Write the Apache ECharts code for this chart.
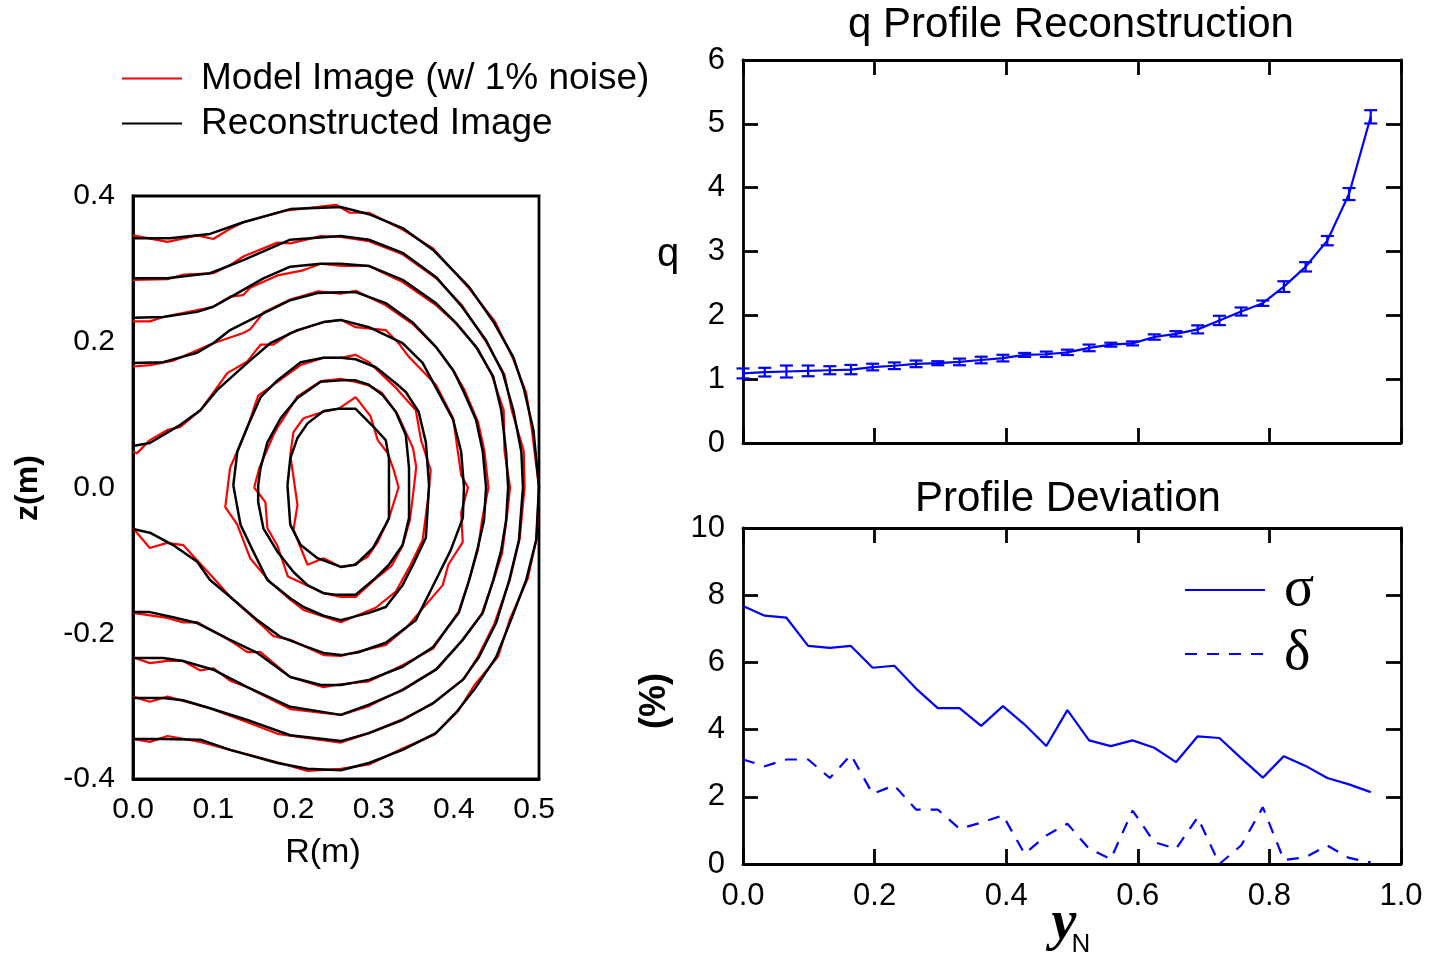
<!DOCTYPE html>
<html lang="en">
<head>
<meta charset="utf-8" />
<title>q profile reconstruction</title>
<script src="https://cdn.jsdelivr.net/npm/echarts@6/dist/echarts.min.js"></script>
<style>
  html, body { margin: 0; padding: 0; background: #fff; }
  #main { width: 1432px; height: 956px; }
</style>
<script>
// ---- flux surfaces, left panel (R, z in m) ----
var blackC1 = [[0.1925,0.003],[0.196,0.04],[0.205,0.068],[0.2175,0.088],[0.2375,0.105],[0.256,0.108],[0.2775,0.108],[0.3,0.083],[0.315,0.065],[0.319,0.04],[0.319,-0.042],[0.315,-0.051],[0.299,-0.083],[0.2775,-0.106],[0.259,-0.109],[0.23,-0.097],[0.209,-0.079],[0.196,-0.051],[0.1925,0.003]];
var blackC2 = [[0.156,0.003],[0.159,0.027],[0.1675,0.062],[0.184,0.095],[0.205,0.123],[0.234,0.145],[0.259,0.147],[0.2775,0.147],[0.294,0.141],[0.311,0.127],[0.3275,0.104],[0.34,0.072],[0.344,0.027],[0.344,-0.042],[0.336,-0.079],[0.319,-0.106],[0.3025,-0.124],[0.2775,-0.147],[0.2525,-0.147],[0.2375,-0.145],[0.2175,-0.134],[0.2,-0.116],[0.18,-0.088],[0.1625,-0.056],[0.156,-0.02],[0.156,0.003]];
var blackC3 = [[0.125,0.003],[0.13,0.049],[0.1425,0.083],[0.159,0.124],[0.18,0.147],[0.209,0.172],[0.2375,0.178],[0.259,0.178],[0.2775,0.176],[0.3025,0.165],[0.3275,0.143],[0.34,0.131],[0.356,0.104],[0.365,0.062],[0.369,0.003],[0.365,-0.069],[0.349,-0.106],[0.336,-0.134],[0.315,-0.164],[0.294,-0.172],[0.259,-0.182],[0.2375,-0.176],[0.2125,-0.164],[0.196,-0.152],[0.1675,-0.127],[0.15,-0.088],[0.134,-0.051],[0.125,0.003]];
var blackC4 = [[0,0.057],[0.021,0.061],[0.059,0.086],[0.084,0.106],[0.105,0.134],[0.1425,0.171],[0.171,0.198],[0.205,0.216],[0.2375,0.227],[0.259,0.23],[0.294,0.22],[0.336,0.198],[0.361,0.171],[0.3775,0.137],[0.399,0.093],[0.409,0.049],[0.4125,0],[0.411,-0.042],[0.396,-0.086],[0.3775,-0.127],[0.3525,-0.182],[0.315,-0.213],[0.281,-0.226],[0.259,-0.23],[0.2375,-0.227],[0.2175,-0.219],[0.184,-0.205],[0.155,-0.182],[0.121,-0.15],[0.096,-0.127],[0.08,-0.102],[0.05,-0.079],[0.021,-0.062],[0,-0.057]];
var blackC5 = [[0,0.171],[0.0375,0.172],[0.08,0.185],[0.1,0.198],[0.121,0.216],[0.1625,0.239],[0.196,0.257],[0.23,0.267],[0.259,0.268],[0.2775,0.268],[0.315,0.253],[0.349,0.226],[0.3775,0.193],[0.399,0.161],[0.411,0.134],[0.4275,0.093],[0.436,0.049],[0.44,0],[0.4375,-0.045],[0.429,-0.086],[0.419,-0.127],[0.406,-0.172],[0.374,-0.219],[0.336,-0.246],[0.294,-0.264],[0.259,-0.271],[0.234,-0.271],[0.196,-0.26],[0.155,-0.227],[0.121,-0.209],[0.08,-0.186],[0.05,-0.178],[0.021,-0.171],[0,-0.171]];
var blackC6 = [[0,0.233],[0.0375,0.234],[0.08,0.241],[0.1,0.248],[0.121,0.261],[0.1625,0.287],[0.196,0.303],[0.234,0.307],[0.259,0.307],[0.294,0.304],[0.336,0.285],[0.3775,0.253],[0.4025,0.226],[0.4275,0.193],[0.449,0.152],[0.459,0.106],[0.465,0.049],[0.4675,0],[0.465,-0.045],[0.459,-0.086],[0.449,-0.127],[0.436,-0.172],[0.411,-0.209],[0.3775,-0.25],[0.336,-0.278],[0.294,-0.298],[0.259,-0.312],[0.196,-0.301],[0.1425,-0.274],[0.1,-0.25],[0.0625,-0.238],[0.0375,-0.234],[0,-0.234]];
var blackC7 = [[0,0.287],[0.0425,0.287],[0.096,0.294],[0.1375,0.312],[0.196,0.34],[0.259,0.345],[0.294,0.34],[0.336,0.322],[0.3775,0.289],[0.41,0.248],[0.44,0.202],[0.461,0.157],[0.474,0.106],[0.484,0.049],[0.486,0],[0.481,-0.072],[0.469,-0.127],[0.4525,-0.186],[0.431,-0.233],[0.411,-0.264],[0.374,-0.296],[0.336,-0.319],[0.294,-0.337],[0.259,-0.348],[0.196,-0.34],[0.1425,-0.319],[0.096,-0.303],[0.0625,-0.292],[0.0375,-0.289],[0,-0.289]];
var blackC8 = [[0,0.342],[0.046,0.342],[0.096,0.348],[0.1375,0.364],[0.196,0.382],[0.259,0.385],[0.294,0.375],[0.336,0.356],[0.374,0.326],[0.419,0.275],[0.45,0.226],[0.474,0.179],[0.4875,0.134],[0.499,0.079],[0.506,0.001],[0.5025,-0.072],[0.49,-0.127],[0.471,-0.182],[0.4525,-0.233],[0.4275,-0.274],[0.4025,-0.309],[0.3775,-0.337],[0.336,-0.36],[0.294,-0.378],[0.259,-0.388],[0.2175,-0.386],[0.18,-0.378],[0.121,-0.36],[0.084,-0.346],[0.0375,-0.345],[0,-0.345]];

var redC1 = [[0.2125,0.095],[0.2375,0.104],[0.256,0.108],[0.2775,0.124],[0.296,0.098],[0.305,0.065],[0.3175,0.047],[0.325,0.024],[0.331,0],[0.319,-0.042],[0.305,-0.075],[0.2925,-0.095],[0.275,-0.106],[0.259,-0.109],[0.2375,-0.097],[0.2175,-0.106],[0.2,-0.058],[0.205,-0.024],[0.196,0.045],[0.2,0.076],[0.2125,0.095]];
var redC2 = [[0.151,0.0],[0.1575,0.027],[0.175,0.072],[0.18,0.082],[0.19,0.099],[0.205,0.125],[0.234,0.146],[0.259,0.149],[0.2775,0.145],[0.294,0.14],[0.31,0.13],[0.33,0.1],[0.349,0.054],[0.353,0.028],[0.349,-0.01],[0.345,-0.045],[0.336,-0.08],[0.322,-0.108],[0.3025,-0.125],[0.2775,-0.15],[0.259,-0.15],[0.2375,-0.145],[0.2125,-0.132],[0.193,-0.122],[0.18,-0.08],[0.1675,-0.056],[0.165,-0.02],[0.151,0.0]];
var redC3 = [[0.121,0.027],[0.1425,0.082],[0.156,0.126],[0.18,0.145],[0.209,0.168],[0.2375,0.178],[0.259,0.178],[0.2775,0.182],[0.294,0.172],[0.3275,0.137],[0.3525,0.106],[0.359,0.065],[0.371,0.024],[0.3675,-0.017],[0.361,-0.072],[0.346,-0.106],[0.3275,-0.143],[0.3025,-0.165],[0.259,-0.185],[0.2125,-0.168],[0.196,-0.154],[0.171,-0.13],[0.146,-0.097],[0.13,-0.051],[0.115,-0.027],[0.121,0.027]];
var redC4 = [[0,0.049],[0.005,0.047],[0.021,0.065],[0.043,0.079],[0.059,0.083],[0.084,0.106],[0.096,0.124],[0.1175,0.157],[0.1425,0.173],[0.159,0.196],[0.175,0.196],[0.196,0.212],[0.2375,0.227],[0.259,0.23],[0.2775,0.22],[0.315,0.216],[0.331,0.198],[0.344,0.179],[0.3775,0.141],[0.399,0.095],[0.409,0.017],[0.4175,0],[0.409,-0.034],[0.411,-0.075],[0.393,-0.106],[0.386,-0.134],[0.34,-0.193],[0.315,-0.216],[0.259,-0.231],[0.2375,-0.23],[0.196,-0.209],[0.175,-0.204],[0.1625,-0.191],[0.121,-0.15],[0.105,-0.13],[0.0625,-0.079],[0.0425,-0.076],[0.021,-0.083],[0,-0.056]];
var redC5 = [[0,0.166],[0.021,0.168],[0.05,0.174],[0.1,0.198],[0.1375,0.212],[0.146,0.217],[0.1625,0.24],[0.196,0.258],[0.23,0.269],[0.259,0.266],[0.2775,0.27],[0.315,0.25],[0.349,0.224],[0.378,0.192],[0.4,0.159],[0.413,0.134],[0.43,0.09],[0.438,0.05],[0.443,0.0],[0.435,-0.045],[0.43,-0.085],[0.418,-0.13],[0.406,-0.17],[0.374,-0.221],[0.336,-0.244],[0.294,-0.266],[0.259,-0.27],[0.2375,-0.274],[0.196,-0.26],[0.159,-0.226],[0.1425,-0.226],[0.121,-0.21],[0.08,-0.185],[0.0625,-0.185],[0.0425,-0.179],[0,-0.172]];
var redC6 = [[0,0.228],[0.021,0.228],[0.0375,0.234],[0.1,0.248],[0.121,0.262],[0.1375,0.264],[0.146,0.274],[0.18,0.291],[0.212,0.298],[0.234,0.307],[0.259,0.304],[0.294,0.304],[0.336,0.282],[0.378,0.25],[0.4,0.228],[0.43,0.19],[0.447,0.155],[0.462,0.106],[0.463,0.05],[0.47,0.0],[0.466,-0.04],[0.46,-0.09],[0.45,-0.125],[0.434,-0.175],[0.41,-0.21],[0.38,-0.248],[0.336,-0.277],[0.294,-0.3],[0.259,-0.312],[0.196,-0.304],[0.1425,-0.274],[0.121,-0.265],[0.1,-0.248],[0.084,-0.251],[0.0625,-0.238],[0.043,-0.238],[0.021,-0.241],[0,-0.233]];
var redC7 = [[0,0.285],[0.043,0.286],[0.0625,0.292],[0.1,0.294],[0.121,0.305],[0.1375,0.317],[0.18,0.336],[0.196,0.335],[0.234,0.345],[0.259,0.344],[0.294,0.338],[0.336,0.32],[0.378,0.287],[0.41,0.25],[0.44,0.2],[0.463,0.155],[0.472,0.106],[0.487,0.05],[0.488,0],[0.482,-0.07],[0.47,-0.125],[0.45,-0.188],[0.43,-0.232],[0.413,-0.262],[0.373,-0.297],[0.336,-0.318],[0.294,-0.337],[0.259,-0.35],[0.18,-0.338],[0.1425,-0.322],[0.096,-0.303],[0.043,-0.287],[0.021,-0.294],[0,-0.287]];
var redC8 = [[0,0.346],[0.043,0.337],[0.08,0.346],[0.1,0.341],[0.121,0.355],[0.1375,0.364],[0.19,0.38],[0.253,0.388],[0.27,0.377],[0.294,0.377],[0.336,0.354],[0.374,0.328],[0.419,0.273],[0.451,0.228],[0.474,0.176],[0.49,0.13],[0.497,0.08],[0.506,0.0],[0.503,-0.07],[0.492,-0.125],[0.47,-0.18],[0.455,-0.232],[0.425,-0.272],[0.405,-0.307],[0.376,-0.339],[0.336,-0.358],[0.294,-0.38],[0.259,-0.386],[0.2175,-0.389],[0.18,-0.377],[0.121,-0.36],[0.084,-0.349],[0.043,-0.341],[0.021,-0.349],[0,-0.345]];

// ---- q profile and deviations (right panels) ----
var yN = [0.000,0.033,0.066,0.099,0.132,0.164,0.197,0.230,0.263,0.296,0.329,0.362,0.395,0.428,0.461,0.493,0.526,0.559,0.592,0.625,0.658,0.691,0.724,0.757,0.790,0.822,0.855,0.888,0.921,0.954];
var qVals = [1.09,1.11,1.12,1.13,1.14,1.15,1.19,1.21,1.24,1.25,1.27,1.30,1.33,1.38,1.39,1.42,1.49,1.54,1.56,1.66,1.71,1.78,1.92,2.06,2.19,2.45,2.76,3.17,3.90,5.11];
var qErr = [0.078,0.068,0.094,0.084,0.063,0.073,0.052,0.052,0.052,0.031,0.052,0.052,0.052,0.031,0.042,0.042,0.052,0.031,0.031,0.042,0.042,0.063,0.073,0.063,0.042,0.084,0.073,0.073,0.094,0.104];
var sigmaVals = [7.68,7.39,7.33,6.49,6.43,6.49,5.84,5.90,5.22,4.64,4.64,4.11,4.70,4.15,3.51,4.58,3.68,3.51,3.68,3.46,3.03,3.80,3.75,3.15,2.57,3.21,2.92,2.56,2.37,2.14];
var deltaVals = [3.11,2.91,3.11,3.11,2.56,3.25,2.09,2.34,1.62,1.62,1.05,1.23,1.45,0.30,0.85,1.20,0.45,0.15,1.59,0.65,0.45,1.39,0.00,0.55,1.69,0.12,0.20,0.55,0.18,0.05];

var SANS = "'Liberation Sans', Arial, sans-serif";
var SERIF = "'Liberation Serif', 'Times New Roman', serif";

function pairs(xs, ys) {
  var out = [];
  for (var i = 0; i < xs.length; i++) out.push([xs[i], ys[i]]);
  return out;
}
function tenths(v) {
  return Math.abs(v * 10 - Math.round(v * 10)) < 1e-6 ? v.toFixed(1) : '';
}
function label(x, y, text, font, rot) {
  var el = { type: 'text', x: x, y: y, style: { text: text, font: font, fill: '#000',
    textAlign: 'center', textVerticalAlign: 'middle', align: 'center', verticalAlign: 'middle' } };
  if (rot) el.rotation = rot;
  return el;
}

window.onload = function () {
  var myChart = echarts.init(document.getElementById('main'));

  var RED = 'Model Image (w/ 1% noise)';
  var BLACK = 'Reconstructed Image';
  var reds = [redC1, redC2, redC3, redC4, redC5, redC6, redC7, redC8];
  var blacks = [blackC1, blackC2, blackC3, blackC4, blackC5, blackC6, blackC7, blackC8];

  var series = [];
  reds.forEach(function (c) {
    series.push({ name: RED, type: 'line', xAxisIndex: 0, yAxisIndex: 0, data: c,
      symbol: 'none', lineStyle: { color: '#ff0000', width: 2.2 }, itemStyle: { color: '#ff0000' }, silent: true });
  });
  blacks.forEach(function (c) {
    series.push({ name: BLACK, type: 'line', xAxisIndex: 0, yAxisIndex: 0, data: c,
      symbol: 'none', lineStyle: { color: '#000000', width: 2.5 }, itemStyle: { color: '#000000' }, silent: true });
  });

  // q profile with error bars
  series.push({ name: 'q', type: 'line', xAxisIndex: 1, yAxisIndex: 1, data: pairs(yN, qVals),
    symbol: 'none', lineStyle: { color: '#0000ff', width: 2.2 } });
  var errData = [];
  for (var i = 0; i < yN.length; i++) errData.push([yN[i], qVals[i] - qErr[i], qVals[i] + qErr[i]]);
  series.push({
    type: 'custom', xAxisIndex: 1, yAxisIndex: 1, data: errData, clip: false,
    renderItem: function (params, api) {
      var lo = api.coord([api.value(0), api.value(1)]);
      var hi = api.coord([api.value(0), api.value(2)]);
      var hw = 6.5;
      var st = { stroke: '#0000ff', lineWidth: 2.2 };
      return { type: 'group', children: [
        { type: 'line', shape: { x1: lo[0], y1: lo[1], x2: hi[0], y2: hi[1] }, style: st },
        { type: 'line', shape: { x1: lo[0] - hw, y1: lo[1], x2: lo[0] + hw, y2: lo[1] }, style: st },
        { type: 'line', shape: { x1: hi[0] - hw, y1: hi[1], x2: hi[0] + hw, y2: hi[1] }, style: st }
      ] };
    }
  });

  // deviations
  series.push({ name: 'σ', type: 'line', xAxisIndex: 3, yAxisIndex: 3, data: pairs(yN, sigmaVals),
    symbol: 'none', lineStyle: { color: '#0000ff', width: 2.2 }, itemStyle: { color: '#0000ff' } });
  series.push({ name: 'δ', type: 'line', xAxisIndex: 3, yAxisIndex: 3, data: pairs(yN, deltaVals),
    symbol: 'none', lineStyle: { color: '#0000ff', width: 2.2, type: [12, 10] }, itemStyle: { color: '#0000ff' } });

  var tickInside = { show: true, inside: true, length: 15, lineStyle: { color: '#000', width: 2.8 } };
  var lineBlack = { show: true, onZero: false, lineStyle: { color: '#000', width: 2.8 } };
  var labelRight = { fontSize: 31, fontFamily: SANS, color: '#000', margin: 18 };
  function rAxisX(grid, pos, lab) {
    return { gridIndex: grid, type: 'value', min: 0, max: 1, interval: 0.2, position: pos, axisLine: lineBlack,
      axisTick: tickInside, splitLine: { show: false },
      axisLabel: lab ? { fontSize: 31, fontFamily: SANS, color: '#000', margin: 17,
        formatter: function (v) { return v.toFixed(1); } } : { show: false } };
  }
  function rAxisY(grid, pos, max, step, lab) {
    return { gridIndex: grid, type: 'value', min: 0, max: max, interval: step, position: pos, axisLine: lineBlack,
      axisTick: tickInside, splitLine: { show: false }, axisLabel: lab ? labelRight : { show: false } };
  }

  var option = {
    animation: false,
    backgroundColor: '#fff',
    grid: [
      { left: 133, top: 196, width: 406, height: 583, show: true, borderColor: '#000', borderWidth: 2.8 },
      { left: 743, top: 60, width: 658, height: 383 },
      { left: 743, top: 528, width: 658, height: 336 }
    ],
    xAxis: [
      { gridIndex: 0, type: 'value', min: 0, max: 0.506, interval: 0.1, axisLine: lineBlack, axisTick: { show: false },
        splitLine: { show: false }, axisLabel: { fontSize: 30, fontFamily: SANS, color: '#000', margin: 16, formatter: tenths } },
      rAxisX(1, 'bottom', false),
      rAxisX(1, 'top', false),
      rAxisX(2, 'bottom', true),
      rAxisX(2, 'top', false)
    ],
    yAxis: [
      { gridIndex: 0, type: 'value', min: -0.4, max: 0.4, interval: 0.2, axisLine: lineBlack, axisTick: { show: false },
        splitLine: { show: false }, axisLabel: { fontSize: 30, fontFamily: SANS, color: '#000', margin: 18, formatter: tenths } },
      rAxisY(1, 'left', 6, 1, true),
      rAxisY(1, 'right', 6, 1, false),
      rAxisY(2, 'left', 10, 2, true),
      rAxisY(2, 'right', 10, 2, false)
    ],
    legend: [
      { data: [RED, BLACK], orient: 'vertical', left: 121, top: 58, padding: 0, itemWidth: 60, itemHeight: 2, itemGap: 4,
        selectedMode: false, itemStyle: { opacity: 0 },
        textStyle: { fontSize: 37, fontFamily: SANS, color: '#000', lineHeight: 41, padding: [0, 0, 0, 14] } },
      { data: ['σ', 'δ'], orient: 'vertical', left: 1184, top: 561, padding: 0, itemWidth: 80, itemHeight: 2, itemGap: 6,
        selectedMode: false, itemStyle: { opacity: 0 },
        textStyle: { fontSize: 56, fontFamily: SERIF, color: '#000', lineHeight: 58, padding: [0, 0, 0, 14] } }
    ],
    graphic: [
      label(1071, 25, 'q Profile Reconstruction', '42px ' + SANS),
      label(1068, 499, 'Profile Deviation', '42px ' + SANS),
      label(668, 255, 'q', '40px ' + SANS),
      label(655, 701, '(%)', 'bold 36px ' + SANS, Math.PI / 2),
      label(28, 488, 'z(m)', 'bold 32px ' + SANS, Math.PI / 2),
      label(323, 853, 'R(m)', '34px ' + SANS),
      label(1064, 925, 'y', 'italic bold 56px ' + SERIF),
      label(1081, 945, 'N', '26px ' + SANS)
    ],
    series: series
  };

  myChart.setOption(option);
};
</script>
</head>
<body>
  <div id="main"></div>
</body>
</html>
